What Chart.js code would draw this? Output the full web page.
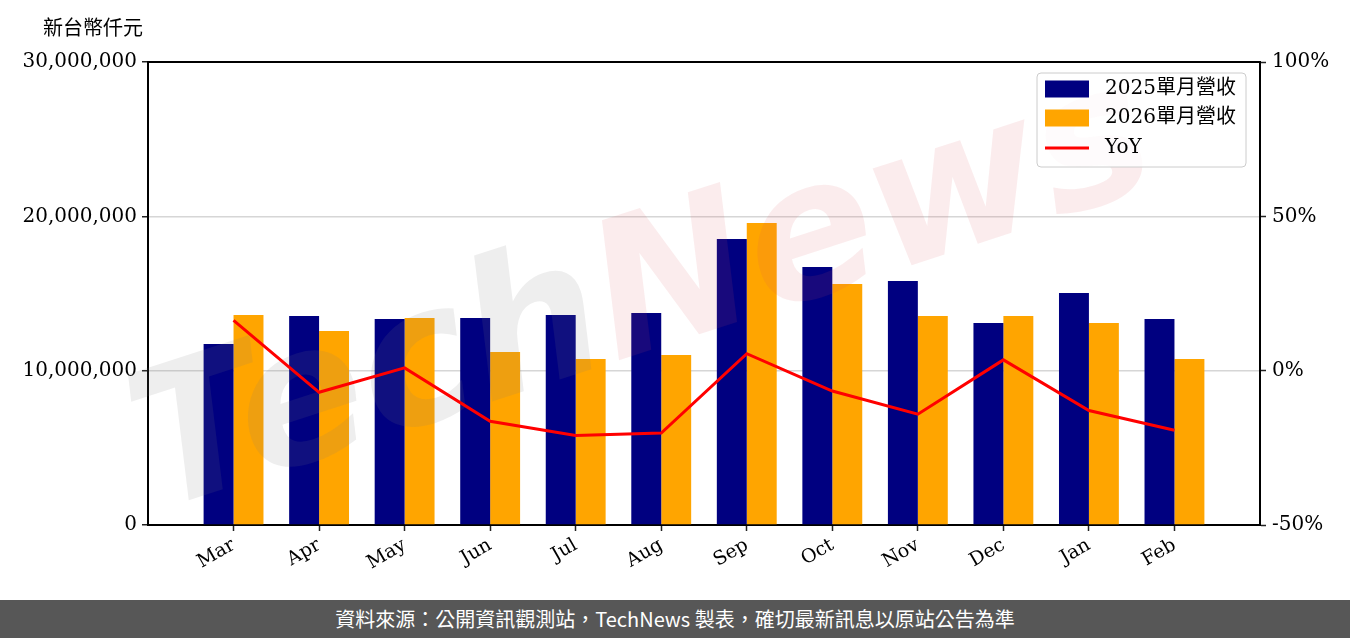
<!DOCTYPE html>
<html>
<head>
<meta charset="utf-8">
<script src="https://cdn.jsdelivr.net/npm/chart.js@4.4.1/dist/chart.umd.min.js"></script>
<style>
  body { margin: 0; background: #fff; width: 1350px; height: 638px; overflow: hidden; }
  #wrap { position: relative; width: 1350px; height: 600px; }
  #footer {
    height: 38px; background: #575757; color: #fff; text-align: center;
    font: 20px "Noto Sans CJK TC", sans-serif; line-height: 38px;
  }
</style>
</head>
<body>
<div id="wrap"><canvas id="chart" width="1350" height="600"></canvas></div>
<div id="footer">資料來源：公開資訊觀測站，TechNews 製表，確切最新訊息以原站公告為準</div>
<script>
const months = ['Mar', 'Apr', 'May', 'Jun', 'Jul', 'Aug', 'Sep', 'Oct', 'Nov', 'Dec', 'Jan', 'Feb'];
// 新台幣仟元
const revenue2025 = [11730000, 13540000, 13350000, 13410000, 13610000, 13740000, 18530000, 16720000, 15810000, 13090000, 15030000, 13350000];
const revenue2026 = [13600000, 12570000, 13410000, 11210000, 10760000, 11020000, 19570000, 15620000, 13540000, 13540000, 13090000, 10760000];
const yoy = [16.3, -7.0, 0.9, -16.4, -21.0, -20.2, 5.5, -6.6, -14.1, 3.5, -12.9, -19.3];

const serif = "'DejaVu Serif', 'Noto Sans CJK TC', serif";

// empty slot on each side so the axis runs from -1 to 12 like the original
const pad = arr => [null, ...arr, null];

// watermark drawn under the YoY line but over the bars
const watermark = {
  id: 'watermark',
  beforeDatasetDraw(chart, args) {
    if (args.index !== 2) return;
    const ctx = chart.ctx;
    ctx.save();
    ctx.translate(645, 300);
    ctx.rotate(-18 * Math.PI / 180);
    ctx.font = "italic bold 190px 'DejaVu Sans', sans-serif";
    ctx.textBaseline = 'middle';
    const w1 = ctx.measureText('Tech').width;
    const w2 = ctx.measureText('News').width;
    const x0 = -(w1 + w2) / 2;
    ctx.fillStyle = 'rgba(120,120,120,0.13)';
    ctx.fillText('Tech', x0, 0);
    ctx.fillStyle = 'rgba(215,80,90,0.11)';
    ctx.fillText('News', x0 + w1, 0);
    ctx.restore();
  }
};

const frame = {
  id: 'frame',
  afterDraw(chart) {
    const ctx = chart.ctx;
    const a = chart.chartArea;
    ctx.save();
    // top spine
    ctx.strokeStyle = '#000';
    ctx.lineWidth = 2;
    ctx.beginPath();
    ctx.moveTo(a.left - 1, a.top);
    ctx.lineTo(a.right + 1, a.top);
    ctx.stroke();

    // unit label
    ctx.fillStyle = '#000';
    ctx.font = "20px 'Noto Sans CJK TC', sans-serif";
    ctx.textBaseline = 'middle';
    ctx.fillText('新台幣仟元', 43, 27);

    // legend box
    const lx = 1037, ly = 73, lw = 209, lh = 94;
    ctx.beginPath();
    ctx.roundRect(lx, ly, lw, lh, 4);
    ctx.fillStyle = 'rgba(255,255,255,0.8)';
    ctx.fill();
    ctx.strokeStyle = '#cccccc';
    ctx.lineWidth = 1;
    ctx.stroke();

    const ds = chart.data.datasets;
    const rows = [89, 118, 148];
    ctx.font = '20px ' + serif;
    ds.forEach((d, i) => {
      const y = rows[i];
      if (d.type === 'line') {
        ctx.strokeStyle = d.borderColor;
        ctx.lineWidth = 3;
        ctx.beginPath();
        ctx.moveTo(1045, y);
        ctx.lineTo(1089, y);
        ctx.stroke();
      } else {
        ctx.fillStyle = d.backgroundColor;
        ctx.fillRect(1045, y - 8.5, 44, 17);
      }
      ctx.fillStyle = '#000';
      ctx.fillText(d.label, 1105, y);
    });
    ctx.restore();
  }
};

new Chart('chart', {
  data: {
    labels: pad(months).map(m => m || ''),
    datasets: [
      {
        type: 'bar',
        label: '2025單月營收',
        data: pad(revenue2025),
        backgroundColor: '#000080',
        yAxisID: 'y',
        order: 1
      },
      {
        type: 'bar',
        label: '2026單月營收',
        data: pad(revenue2026),
        backgroundColor: '#FFA500',
        yAxisID: 'y',
        order: 1
      },
      {
        type: 'line',
        label: 'YoY',
        data: pad(yoy),
        borderColor: '#FF0000',
        borderWidth: 3,
        pointRadius: 0,
        tension: 0,
        yAxisID: 'y1',
        order: 0
      }
    ]
  },
  plugins: [watermark, frame],
  options: {
    responsive: false,
    animation: false,
    layout: { padding: { top: 62, left: 0, right: 0, bottom: 0 } },
    datasets: {
      bar: { categoryPercentage: 0.7, barPercentage: 1.0 }
    },
    scales: {
      x: {
        type: 'category',
        offset: false,
        grid: {
          offset: false,
          drawOnChartArea: false,
          tickLength: 6,
          tickWidth: 1.5,
          tickColor: ctx => (ctx.index === 0 || ctx.index === 13) ? 'rgba(0,0,0,0)' : '#222'
        },
        border: { color: '#000', width: 2 },
        ticks: {
          autoSkip: false,
          minRotation: 30,
          maxRotation: 30,
          color: '#000',
          padding: 3,
          font: { family: serif, size: 19 }
        },
        afterFit: s => { s.height = 75; }
      },
      y: {
        position: 'left',
        min: 0,
        max: 30000000,
        ticks: {
          stepSize: 10000000,
          color: '#000',
          padding: 5,
          font: { family: serif, size: 20 },
          callback: v => v.toLocaleString('en-US')
        },
        grid: {
          color: ctx => (ctx.tick && (ctx.tick.value === 0 || ctx.tick.value === 30000000)) ? 'rgba(0,0,0,0)' : '#d6d6d6',
          lineWidth: 1.5,
          tickLength: 6,
          tickWidth: 1.5,
          tickColor: '#222'
        },
        border: { color: '#000', width: 2 },
        afterFit: s => { s.width = 148; }
      },
      y1: {
        position: 'right',
        min: -50,
        max: 100,
        ticks: {
          stepSize: 50,
          color: '#000',
          padding: 6,
          font: { family: serif, size: 20 },
          callback: v => v + '%'
        },
        grid: {
          drawOnChartArea: false,
          tickLength: 6,
          tickWidth: 1.5,
          tickColor: '#222'
        },
        border: { color: '#000', width: 2 },
        afterFit: s => { s.width = 90; }
      }
    },
    plugins: {
      legend: { display: false },
      tooltip: { enabled: false }
    }
  }
});
</script>
</body>
</html>
